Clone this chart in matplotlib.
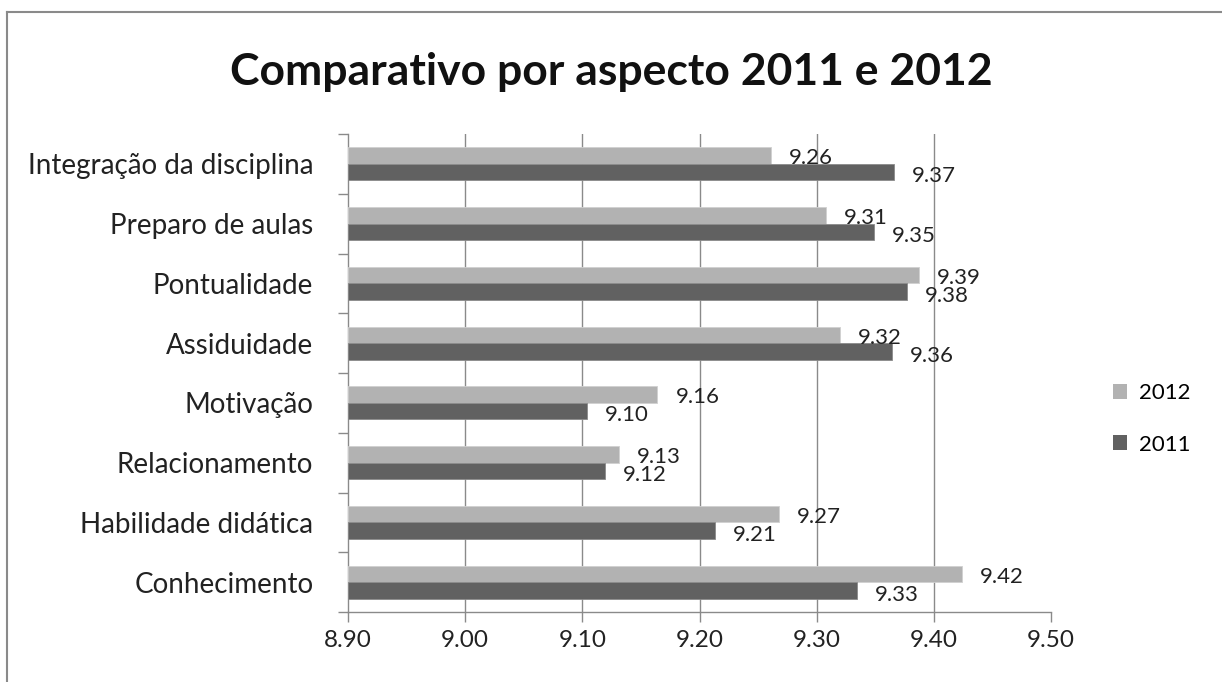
import numpy as np
import matplotlib.pyplot as plt
from matplotlib.lines import Line2D
from matplotlib.patches import Patch

plt.rcParams['font.family'] = ['Lato', 'DejaVu Sans']

# Aspectos avaliados (de baixo para cima no gráfico)
aspectos = ['Conhecimento', 'Habilidade didática', 'Relacionamento', 'Motivação',
            'Assiduidade', 'Pontualidade', 'Preparo de aulas', 'Integração da disciplina']
notas_2012 = [9.424, 9.268, 9.131, 9.164, 9.320, 9.387, 9.308, 9.261]
notas_2011 = [9.334, 9.213, 9.119, 9.104, 9.364, 9.377, 9.349, 9.366]
ticks_x = [8.90, 9.00, 9.10, 9.20, 9.30, 9.40, 9.50]

cor_2012 = '#b2b2b2'
cor_2011 = '#616161'
cor_grade = '#8a8a8a'

fig = plt.figure(figsize=(12.22, 6.82), dpi=100)
ax = fig.add_axes([348 / 1222, 1 - 612 / 682, (1051 - 348) / 1222, (612 - 134) / 682])

y = np.arange(len(aspectos))
altura = 0.275
x0 = ticks_x[0]

ax.barh(y + altura / 2, np.array(notas_2012) - x0, left=x0, height=altura,
        color=cor_2012, edgecolor='#d0d0d0', linewidth=0.6, zorder=3)
ax.barh(y - altura / 2, np.array(notas_2011) - x0, left=x0, height=altura,
        color=cor_2011, edgecolor='#8a8a8a', linewidth=0.6, zorder=3)

# Rótulos com o valor de cada barra
for yi, v in zip(y, notas_2012):
    ax.annotate(f'{v:.2f}', xy=(v, yi + altura / 2), xytext=(13, -2),
                textcoords='offset points', va='center', ha='left',
                fontsize=16, color='#222222', zorder=4)
for yi, v in zip(y, notas_2011):
    ax.annotate(f'{v:.2f}', xy=(v, yi - altura / 2), xytext=(13, -3),
                textcoords='offset points', va='center', ha='left',
                fontsize=16, color='#222222', zorder=4)

ax.set_xlim(ticks_x[0], ticks_x[-1])
ax.set_ylim(-0.5, len(aspectos) - 0.5)
ax.set_xticks(ticks_x)
ax.set_xticklabels([f'{t:.2f}' for t in ticks_x], fontsize=17.5, color='#222222')
ax.set_yticks(y)
ax.set_yticklabels(aspectos, fontsize=20, color='#222222')
ax.set_yticks(np.arange(-0.5, len(aspectos), 1.0), minor=True)

ax.tick_params(axis='y', which='major', length=0, pad=25)
ax.tick_params(axis='y', which='minor', length=7, width=1, color=cor_grade)
ax.tick_params(axis='x', which='major', length=7, width=1, color=cor_grade, pad=6)

# Grade vertical só até 9.40 (a borda direita fica sem linha)
for t in ticks_x[1:-1]:
    ax.axvline(t, color=cor_grade, linewidth=1, zorder=0)
for lado in ['top', 'right']:
    ax.spines[lado].set_visible(False)
for lado in ['left', 'bottom']:
    ax.spines[lado].set_color(cor_grade)
    ax.spines[lado].set_linewidth(1)

fig.text(0.5, 1 - 72 / 682, 'Comparativo por aspecto 2011 e 2012',
         ha='center', va='center', fontsize=32, fontweight='bold', color='#111111')

handles = [Patch(facecolor=cor_2012, edgecolor='none', label='2012'),
           Patch(facecolor=cor_2011, edgecolor='none', label='2011')]
fig.legend(handles=handles, loc='center left',
           bbox_to_anchor=(1093 / 1222, 1 - 419 / 682), frameon=False,
           fontsize=16, handlelength=0.65, handleheight=0.65,
           handletextpad=0.5, labelspacing=1.4)

# Moldura da área do gráfico (só topo e lado esquerdo aparecem)
fig.add_artist(Line2D([7 / 1222, 1], [1 - 12 / 682, 1 - 12 / 682],
                      transform=fig.transFigure, color='#8a8a8a', linewidth=1.5))
fig.add_artist(Line2D([7 / 1222, 7 / 1222], [0, 1 - 12 / 682],
                      transform=fig.transFigure, color='#8a8a8a', linewidth=1.5))

fig.savefig('out.png', dpi=100, facecolor='white')
